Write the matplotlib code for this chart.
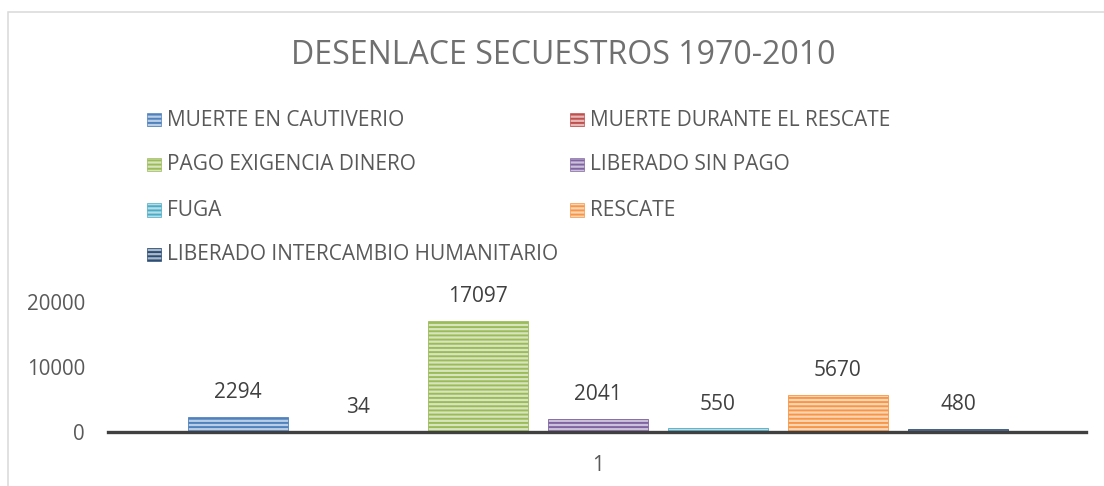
import matplotlib
matplotlib.use("Agg")
import matplotlib.pyplot as plt
from matplotlib.patches import Rectangle
from matplotlib.colors import to_rgb

categories = ["MUERTE EN CAUTIVERIO", "MUERTE DURANTE EL RESCATE", "PAGO EXIGENCIA DINERO",
              "LIBERADO SIN PAGO", "FUGA", "RESCATE", "LIBERADO INTERCAMBIO HUMANITARIO"]
values = [2294, 34, 17097, 2041, 550, 5670, 480]
colors = ["#4F81BD", "#C0504D", "#9BBB59", "#8064A2", "#4BACC6", "#F79646", "#2C4D75"]
yticks = [0, 10000, 20000]
xlabel_tick = "1"
title = "DESENLACE SECUESTROS 1970-2010"

FONT = ["Open Sans", "DejaVu Sans"]
plt.rcParams["font.family"] = FONT
plt.rcParams["hatch.linewidth"] = 1.4

W, H = 1104, 486
fig = plt.figure(figsize=(W / 100, H / 100), dpi=100)


def fx(px):
    return px / W


def fy(py):
    return 1 - py / H


def tint(c, f=0.6):
    r, g, b = to_rgb(c)
    return (r + (1 - r) * f, g + (1 - g) * f, b + (1 - b) * f)


# chart border
fig.add_artist(Rectangle((fx(8), fy(490)), fx(1110) - fx(8), fy(12) - fy(490),
                         transform=fig.transFigure, fill=False, edgecolor="#D9D9D9", lw=1.1))

ax = fig.add_axes([fx(108), fy(432), fx(1086) - fx(108), fy(302) - fy(432)])
ax.set_facecolor("none")
n = len(values)
xs = list(range(n))
bars = ax.bar(xs, values, width=100 / 120, color=[tint(c) for c in colors],
              edgecolor=colors, linewidth=0.6, hatch="----", zorder=2)
ax.set_xlim(-1.083, 7.067)
ax.set_ylim(0, 20000)
ax.set_yticks(yticks)
ax.set_yticklabels([str(t) for t in yticks])
ax.set_xticks([(n - 1) / 2])
ax.set_xticklabels([xlabel_tick])
ax.tick_params(axis="both", length=0, labelsize=14.8, colors="#595959")
ax.tick_params(axis="y", pad=16.5)
ax.tick_params(axis="x", pad=16.5)
for s in ["top", "right", "left"]:
    ax.spines[s].set_visible(False)
ax.spines["bottom"].set_color("#404040")
ax.spines["bottom"].set_linewidth(2.4)
ax.spines["bottom"].set_zorder(3)

for x, v in zip(xs, values):
    ax.annotate(str(v), (x, v), xytext=(0, 17.5), textcoords="offset points",
                ha="center", va="center", fontsize=15, color="#404040")

fig.text(fx(563), fy(55), title, ha="center", va="center", fontsize=23, color="#707070")

# legend (row-major, two columns)
col_marker = [147, 570]
row_y = [120, 165, 210, 254]
for i, (lab, c) in enumerate(zip(categories, colors)):
    col = i % 2
    row = i // 2
    mx = col_marker[col]
    yc = row_y[row]
    fig.add_artist(Rectangle((fx(mx), fy(yc + 6.5)), fx(14), 13 / H, transform=fig.transFigure,
                             facecolor=tint(c), edgecolor=c, lw=0.5, hatch="----"))
    fig.text(fx(mx + 20), fy(yc), lab, ha="left", va="center", fontsize=15, color="#595959")

fig.savefig("out.png", dpi=100)
